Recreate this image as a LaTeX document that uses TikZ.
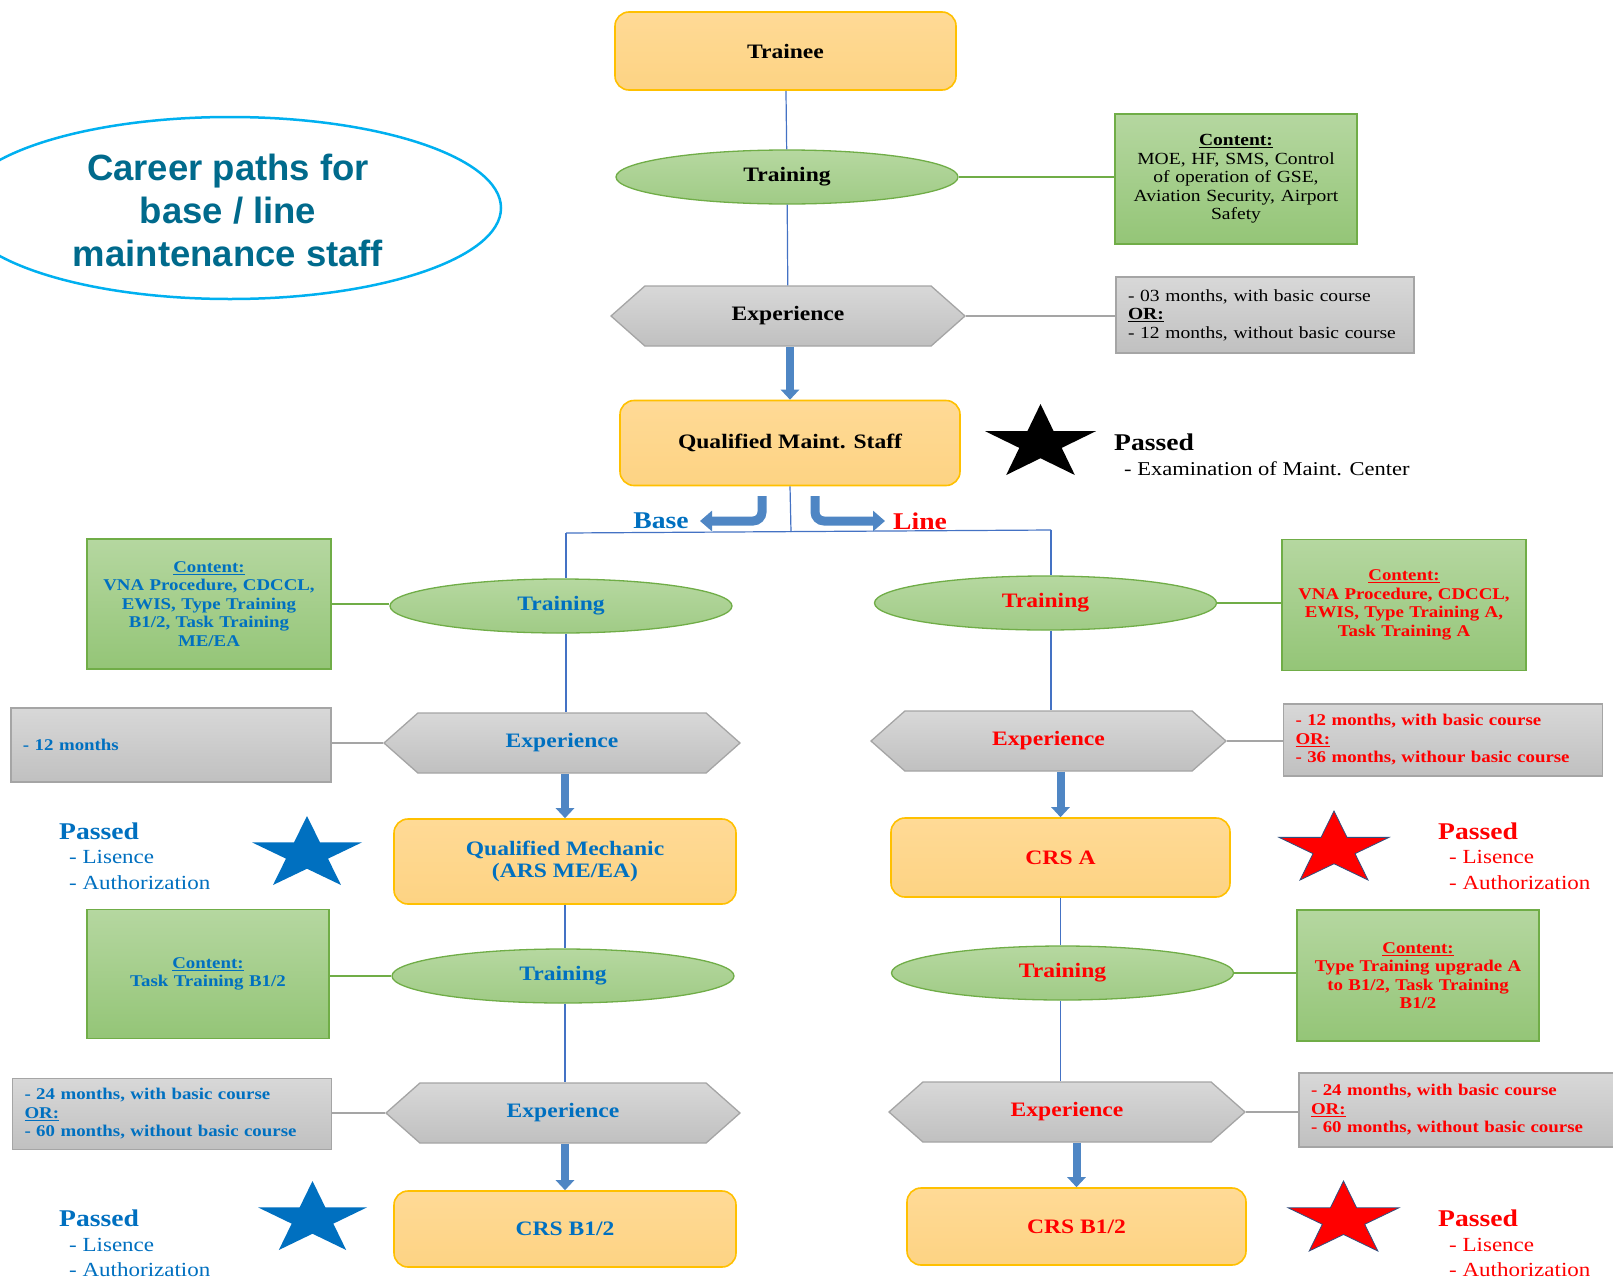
\documentclass[tikz,border=0pt]{standalone}
\usepackage{fontspec}
\setmainfont{Liberation Serif}[FakeStretch=1.15]
\newfontfamily\headfont{Liberation Sans}
\usetikzlibrary{shapes.geometric,shapes.symbols,arrows.meta}
\definecolor{orD}{HTML}{FFC000}
\definecolor{orT}{HTML}{FFDA96}
\definecolor{orB}{HTML}{FDD383}
\definecolor{grD}{HTML}{70AD47}
\definecolor{geT}{HTML}{B6D8A0}
\definecolor{geB}{HTML}{A0CB86}
\definecolor{gbT}{HTML}{B5D7A0}
\definecolor{gbB}{HTML}{94C577}
\definecolor{gyD}{HTML}{A5A5A5}
\definecolor{gyT}{HTML}{D8D8D8}
\definecolor{gyB}{HTML}{C0C0C0}
\definecolor{lnB}{HTML}{4472C4}
\definecolor{arB}{HTML}{4F86C4}
\definecolor{bT}{HTML}{0070C0}
\definecolor{rT}{HTML}{FF0000}
\definecolor{hdC}{HTML}{006A8C}
\definecolor{cyC}{HTML}{00B0F0}
\definecolor{stO}{HTML}{2F4F7F}
\newcommand\mystar[5]{\begin{scope}[shift={(#1,#2)},xscale=#3,yscale=#4]
\path[#5] (0.5,0) -- (0.382,0.382) -- (0,0.382) -- (0.309,0.618) -- (0.191,1) -- (0.5,0.764) -- (0.809,1) -- (0.691,0.618) -- (1,0.382) -- (0.618,0.382) -- cycle;
\end{scope}}
\begin{document}
\begin{tikzpicture}[x=1pt,y=-1pt,
  obox/.style={rectangle, rounded corners=14pt, draw=orD, line width=1.6pt, top color=orT, bottom color=orB, font=\fontsize{20.5}{22}\selectfont\bfseries, align=center, inner sep=0pt},
  gell/.style={ellipse, draw=grD, line width=1.3pt, top color=geT, bottom color=geB, font=\fontsize{20.5}{22}\selectfont\bfseries, inner sep=0pt, minimum width=342pt, minimum height=54pt},
  gbox/.style={rectangle, draw=grD, line width=1.3pt, top color=gbT, bottom color=gbB, align=center, inner sep=0pt},
  hexa/.style={signal, signal to=west and east, signal pointer angle=83, draw=gyD, line width=1.3pt, top color=gyT, bottom color=gyB, font=\fontsize{20.5}{22}\selectfont\bfseries, inner sep=0pt, minimum height=60pt},
  nbox/.style={rectangle, draw=gyD, line width=1.3pt, top color=gyT, bottom color=gyB, align=left, inner xsep=12pt, inner ysep=0pt},
  blkfont/.style={font=\fontsize{17}{18.5}\selectfont},
  colfont/.style={font=\fontsize{16.4}{18.5}\selectfont\bfseries},
  conn/.style={draw=lnB, line width=1.2pt},
  gconn/.style={draw=grD, line width=1.2pt},
  yconn/.style={draw=gyD, line width=1.2pt},
  blk/.style={draw=arB, line width=8pt, -{Triangle[width=18pt,length=10pt]}},
  bent/.style={draw=arB, line width=9pt, rounded corners=9pt, -{Triangle[width=20pt,length=12pt]}},
  ptitle/.style={anchor=west, inner sep=0pt, font=\fontsize{24}{26}\selectfont\bfseries},
  pitem/.style={anchor=west, inner sep=0pt, font=\fontsize{20}{24}\selectfont}]
\fill[white] (0,0) rectangle (1613,1282);
\useasboundingbox (0,0) rectangle (1613,1282);

% title
\node[ellipse, draw=cyC, line width=2.5pt, minimum width=542pt, minimum height=182pt] (titleell) at (230,208) {};
\node[align=center, text=hdC, font=\headfont\fontsize{36.5}{43}\selectfont\bfseries] (title) at (228,210) {Career paths for\\base / line\\maintenance staff};

% top column
\node[obox, minimum width=341pt, minimum height=78pt] (trainee) at (785.5,51) {Trainee};
\node[gell] (train0) at (787,177) {Training};
\node[gbox, minimum width=242pt, minimum height=130pt, text width=232pt, blkfont] (content0) at (1236,179) {\textbf{\underline{Content:}}\\MOE, HF, SMS, Control\\of operation of GSE,\\Aviation Security, Airport\\Safety};
\node[hexa, minimum width=354pt] (exp0) at (788,316) {Experience};
\node[nbox, minimum width=298pt, minimum height=76pt, text width=274pt, blkfont] (note0) at (1265,315) {- 03 months, with basic course\\\textbf{\underline{OR:}}\\- 12 months, without basic course};
\node[obox, minimum width=340pt, minimum height=85pt] (qms) at (790,443) {Qualified Maint. Staff};
\mystar{985}{404}{111}{71}{fill=black}
\node[ptitle] (p0) at (1114,442) {Passed};
\node[pitem, font=\fontsize{19.6}{22}\selectfont] (p0a) at (1124,469) {- Examination of Maint. Center};

\draw[conn] (trainee) -- (train0);
\draw[conn] (train0) -- (exp0);
\draw[gconn] (train0.east) -- (train0.east -| content0.west);
\draw[yconn] (exp0.east) -- (exp0.east -| note0.west);
\draw[blk] (exp0.south -| qms.north) -- (qms.north);

% split
\coordinate (jM) at (791,532);
\coordinate (jL) at (566,533);
\coordinate (jR) at (1051,530);
\draw[conn] (qms.south) -- (jM);
\draw[conn] (jL) -- (jR);
\coordinate (bA) at (762,496);
\coordinate (bB) at (762,521);
\coordinate (bC) at (700,521);
\coordinate (lA) at (815,496);
\coordinate (lB) at (815,521);
\coordinate (lC) at (885,521);
\draw[bent] (bA) -- (bB) -- (bC);
\draw[bent] (lA) -- (lB) -- (lC);
\node[text=bT, font=\fontsize{24}{26}\selectfont\bfseries] (base) at (661,521) {Base};
\node[text=rT, font=\fontsize{24}{26}\selectfont\bfseries] (line) at (920,521) {Line};

% left column (base)
\node[gell, text=bT] (trL1) at (561,606) {Training};
\draw[conn] (jL) -- (jL |- trL1.north);
\node[gbox, minimum width=244pt, minimum height=130pt, text width=236pt, colfont, text=bT] (cL1) at (209,604) {\underline{Content:}\\VNA Procedure, CDCCL,\\EWIS, Type Training\\B1/2, Task Training\\ME/EA};
\node[hexa, minimum width=356pt, text=bT] (exL1) at (562,743) {Experience};
\node[nbox, minimum width=320pt, minimum height=74pt, text width=296pt, colfont, text=bT] (nL1) at (171,745) {- 12 months};
\node[obox, minimum width=342pt, minimum height=85pt, text=bT] (qm) at (565,861.5) {Qualified Mechanic\\(ARS ME/EA)};
\mystar{252}{816}{110}{69}{fill=bT}
\node[ptitle, text=bT] (pL1) at (59,831) {Passed};
\node[pitem, text=bT] (pL1a) at (69,857) {- Lisence};
\node[pitem, text=bT] (pL1b) at (69,883) {- Authorization};
\draw[gconn] (cL1.east) -- (cL1.east -| trL1.west);
\draw[conn] (trL1.south -| jL) -- (exL1.north -| jL);
\draw[yconn] (exL1.west) -- (exL1.west -| nL1.east);
\draw[blk] (exL1.south -| qm.north) -- (qm.north);

\node[gell, text=bT] (trL2) at (563,976) {Training};
\node[gbox, minimum width=242pt, minimum height=129pt, text width=234pt, colfont, text=bT] (cL2) at (208,974) {\underline{Content:}\\Task Training B1/2\\[40pt]};
\node[hexa, minimum width=354pt, text=bT] (exL2) at (563,1113) {Experience};
\node[nbox, minimum width=319pt, minimum height=71pt, text width=295pt, colfont, text=bT] (nL2) at (172,1114) {- 24 months, with basic course\\\underline{OR:}\\- 60 months, without basic course};
\node[obox, minimum width=342pt, minimum height=76pt, text=bT] (crsL) at (565,1229) {CRS B1/2};
\mystar{258}{1181}{109}{69}{fill=bT}
\node[ptitle, text=bT] (pL2) at (59,1218) {Passed};
\node[pitem, text=bT] (pL2a) at (69,1245) {- Lisence};
\node[pitem, text=bT] (pL2b) at (69,1270) {- Authorization};
\draw[conn] (qm.south) -- (qm.south |- trL2.north);
\draw[gconn] (trL2.west -| cL2.east) -- (trL2.west);
\draw[conn] (trL2.south -| qm.south) -- (exL2.north -| qm.south);
\draw[yconn] (exL2.west) -- (exL2.west -| nL2.east);
\draw[blk] (exL2.south -| crsL.north) -- (crsL.north);

% right column (line)
\node[gell, text=rT] (trR1) at (1045.5,603) {Training};
\draw[conn] (jR) -- (jR |- trR1.north);
\node[gbox, minimum width=244pt, minimum height=131pt, text width=236pt, colfont, text=rT] (cR1) at (1404,605) {\underline{Content:}\\VNA Procedure, CDCCL,\\EWIS, Type Training A,\\Task Training A\\[16pt]};
\node[hexa, minimum width=355pt, text=rT] (exR1) at (1048.5,741) {Experience};
\node[nbox, minimum width=319pt, minimum height=72pt, text width=295pt, colfont, text=rT] (nR1) at (1443,740) {- 12 months, with basic course\\\underline{OR:}\\- 36 months, withour basic course};
\node[obox, minimum width=339pt, minimum height=79pt, text=rT] (crsA) at (1060.5,857.5) {CRS A};
\mystar{1279}{811}{110}{69}{fill=rT, draw=stO, line width=0.8pt}
\node[ptitle, text=rT] (pR1) at (1438,831) {Passed};
\node[pitem, text=rT] (pR1a) at (1449,857) {- Lisence};
\node[pitem, text=rT] (pR1b) at (1449,883) {- Authorization};
\draw[gconn] (trR1.east) -- (trR1.east -| cR1.west);
\draw[conn] (trR1.south -| jR) -- (exR1.north -| jR);
\draw[yconn] (exR1.east) -- (exR1.east -| nR1.west);
\draw[blk] (exR1.south -| crsA.north) -- (crsA.north);

\node[gell, text=rT] (trR2) at (1062.5,973) {Training};
\node[gbox, minimum width=242pt, minimum height=131pt, text width=234pt, colfont, text=rT] (cR2) at (1418,975.5) {\underline{Content:}\\Type Training upgrade A\\to B1/2, Task Training\\B1/2\\[16pt]};
\node[hexa, minimum width=356pt, text=rT] (exR2) at (1067,1112) {Experience};
\node[nbox, minimum width=330pt, minimum height=74pt, text width=306pt, colfont, text=rT] (nR2) at (1464,1110) {- 24 months, with basic course\\\underline{OR:}\\- 60 months, without basic course};
\node[obox, minimum width=339pt, minimum height=77pt, text=rT] (crsR) at (1076.5,1226.5) {CRS B1/2};
\mystar{1288}{1181}{111}{70}{fill=rT, draw=stO, line width=0.8pt}
\node[ptitle, text=rT] (pR2) at (1438,1218) {Passed};
\node[pitem, text=rT] (pR2a) at (1449,1245) {- Lisence};
\node[pitem, text=rT] (pR2b) at (1449,1270) {- Authorization};
\draw[conn] (crsA.south) -- (crsA.south |- trR2.north);
\draw[gconn] (trR2.east) -- (trR2.east -| cR2.west);
\draw[conn] (trR2.south -| crsA.south) -- (exR2.north -| crsA.south);
\draw[yconn] (exR2.east) -- (exR2.east -| nR2.west);
\draw[blk] (exR2.south -| crsR.north) -- (crsR.north);
\end{tikzpicture}
\end{document}
